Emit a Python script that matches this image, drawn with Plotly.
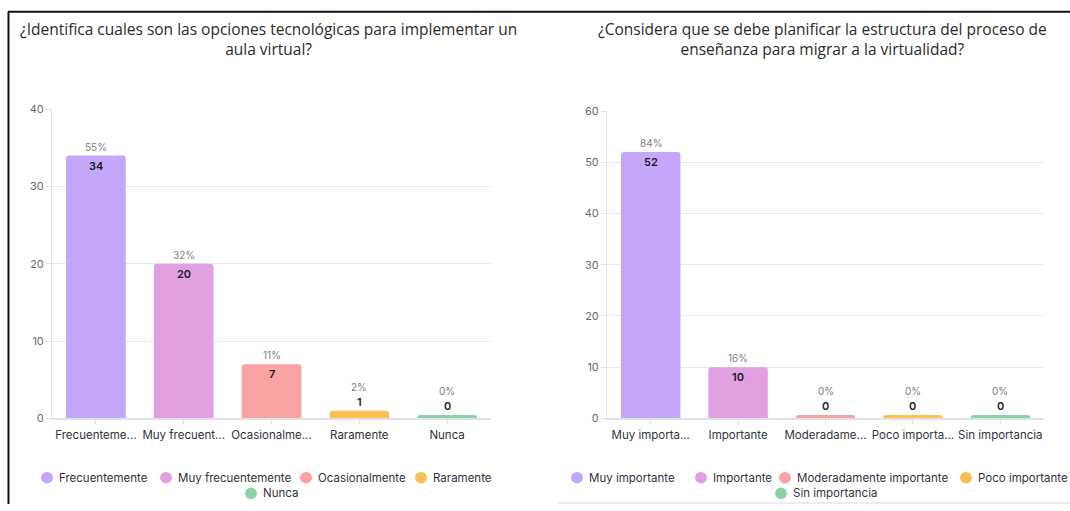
import plotly.graph_objects as go

W, H = 1070, 511

# ---------------- data ----------------
title_left = "¿Identifica cuales son las opciones tecnológicas para implementar un<br>aula virtual?"
cats_left = ["Frecuentemente", "Muy frecuentemente", "Ocasionalmente", "Raramente", "Nunca"]
ticks_left = ["Frecuenteme...", "Muy frecuent...", "Ocasionalme...", "Raramente", "Nunca"]
vals_left = [34, 20, 7, 1, 0]

title_right = "¿Considera que se debe planificar la estructura del proceso de<br>enseñanza para migrar a la virtualidad?"
cats_right = ["Muy importante", "Importante", "Moderadamente importante", "Poco importante", "Sin importancia"]
ticks_right = ["Muy importa...", "Importante", "Moderadame...", "Poco importa...", "Sin importancia"]
vals_right = [52, 10, 0, 0, 0]

colors = ["#C4A7FA", "#E1A0E2", "#F9A3A3", "#FBBF52", "#8BD3A4"]

# ---------------- layout constants ----------------
def px(x):
    return x / W

def py(y):
    return 1 - y / H

PANELS = [
    dict(cats=cats_left, ticks=ticks_left, vals=vals_left, title=title_left,
         xd=(52, 491), yd=(423, 105), ymax=40, xa="x", ya="y", tcx=268,
         leg1=[47, 166, 306, 421], leg2=[251]),
    dict(cats=cats_right, ticks=ticks_right, vals=vals_right, title=title_right,
         xd=(607, 1044), yd=(423, 107), ymax=60, xa="x2", ya="y2", tcx=822,
         leg1=[577, 701, 785, 966], leg2=[781]),
]

MIN_BAR_PX = 3.5
FONT = "Inter, Roboto, sans-serif"
TITLE_FONT = "Open Sans, Arial, sans-serif"
TITLE_Y = 32.5
LEG_Y1, LEG_Y2 = 484, 500

fig = go.Figure()
annotations = []
shapes = []

for p in PANELS:
    plot_h = p["yd"][0] - p["yd"][1]
    unit_px = plot_h / p["ymax"]
    min_units = MIN_BAR_PX / unit_px
    total = sum(p["vals"])
    for i, (c, v) in enumerate(zip(p["cats"], p["vals"])):
        disp = max(v, min_units)
        fig.add_trace(go.Bar(
            x=[c], y=[disp], xaxis=p["xa"], yaxis=p["ya"],
            marker=dict(color=colors[i], cornerradius=3, line=dict(width=0)),
            showlegend=False, name=c,
            hovertemplate=f"{c}: {v}<extra></extra>",
        ))
        pct = f"{round(100 * v / total)}%"
        inside = disp * unit_px > 22
        cnt_shift, pct_shift = (-10, 9) if inside else (9, 24)
        annotations.append(dict(
            x=c, y=disp, xref=p["xa"], yref=p["ya"], text=str(v), showarrow=False,
            yshift=cnt_shift, yanchor="middle",
            font=dict(family=FONT, size=11, color="#1a1a28", weight=600)))
        annotations.append(dict(
            x=c, y=disp, xref=p["xa"], yref=p["ya"], text=pct, showarrow=False,
            yshift=pct_shift, yanchor="middle",
            font=dict(family=FONT, size=10, color="#7d7d87")))
    # title
    annotations.append(dict(
        x=px(p["tcx"]), y=py(TITLE_Y), xref="paper", yref="paper", text=p["title"],
        showarrow=False, align="center", xanchor="center", yanchor="middle",
        font=dict(family=TITLE_FONT, size=15.5, color="#2b2b2b")))
    # custom legend (circle markers + text)
    rows = [(p["leg1"], p["cats"][:4], colors[:4], LEG_Y1), (p["leg2"], p["cats"][4:], colors[4:], LEG_Y2)]
    for xs, names, cols, yy in rows:
        for cx, nm, col in zip(xs, names, cols):
            shapes.append(dict(type="circle", xref="paper", yref="paper",
                               x0=px(cx - 6), x1=px(cx + 6), y0=py(yy + 6), y1=py(yy - 6),
                               fillcolor=col, line=dict(width=0)))
            annotations.append(dict(
                x=px(cx + 10), y=py(yy), xref="paper", yref="paper", text=nm,
                showarrow=False, xanchor="left", yanchor="middle",
                font=dict(family=FONT, size=11.5, color="#333340")))

# borders
shapes.append(dict(type="line", xref="paper", yref="paper", x0=px(8), x1=px(1070),
                   y0=py(5), y1=py(5), line=dict(color="#111111", width=2)))
shapes.append(dict(type="line", xref="paper", yref="paper", x0=px(8.5), x1=px(8.5),
                   y0=py(4.5), y1=py(511), line=dict(color="#111111", width=2)))
shapes.append(dict(type="line", xref="paper", yref="paper", x0=px(558), x1=px(1070),
                   y0=py(510), y1=py(510), line=dict(color="#E8ECF7", width=2)))

axis_common_x = dict(showgrid=False, showline=True, linecolor="#E1E1EA", linewidth=2,
                     ticks="outside", ticklen=5, tickcolor="#E1E1EA", type="category",
                     tickfont=dict(family=FONT, size=11.5, color="#333340"), fixedrange=True)
axis_common_y = dict(showgrid=True, gridcolor="#E8E8EF", gridwidth=1, zeroline=False,
                     showline=True, linecolor="#E1E1EA", linewidth=1, ticks="outside",
                     ticklen=5, tickcolor="#E1E1EA", dtick=10,
                     tickfont=dict(family=FONT, size=11, color="#6b6b75"), fixedrange=True)

L, R = PANELS
fig.update_layout(
    width=W, height=H, margin=dict(l=0, r=0, t=0, b=0),
    paper_bgcolor="white", plot_bgcolor="white",
    barmode="overlay", bargap=0.32,
    xaxis=dict(axis_common_x, domain=[px(L["xd"][0]), px(L["xd"][1])], anchor="y",
               tickvals=L["cats"], ticktext=L["ticks"]),
    yaxis=dict(axis_common_y, domain=[py(L["yd"][0]), py(L["yd"][1])], anchor="x",
               range=[0, L["ymax"]]),
    xaxis2=dict(axis_common_x, domain=[px(R["xd"][0]), px(R["xd"][1])], anchor="y2",
                tickvals=R["cats"], ticktext=R["ticks"]),
    yaxis2=dict(axis_common_y, domain=[py(R["yd"][0]), py(R["yd"][1])], anchor="x2",
                range=[0, R["ymax"]]),
    annotations=annotations, shapes=shapes, showlegend=False,
)

fig.write_html("out.html", config={"displayModeBar": False})
with open("out.html", encoding="utf-8") as f:
    html = f.read()
css = ("<style>html,body{margin:0;padding:0;overflow:hidden;width:1070px;height:511px}"
       ".plotly-graph-div{position:absolute;top:0;left:0}</style>")
html = html.replace("<head>", "<head>" + css, 1)
with open("out.html", "w", encoding="utf-8") as f:
    f.write(html)
